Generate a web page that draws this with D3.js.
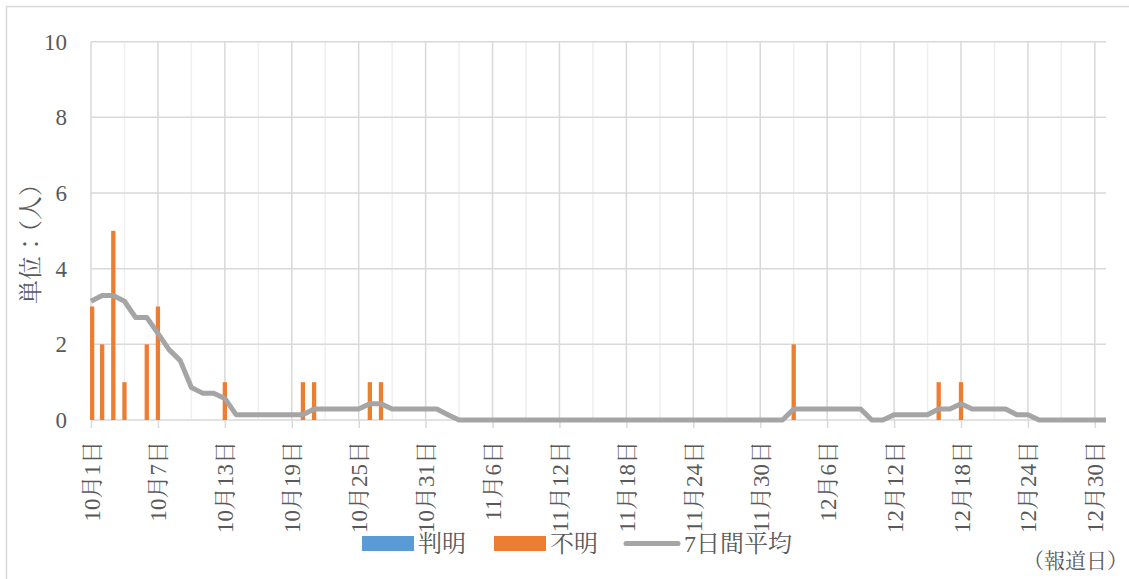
<!DOCTYPE html>
<html>
<head>
<meta charset="utf-8">
<script src="https://cdn.jsdelivr.net/npm/d3@7"></script>
<style>
  body { margin: 0; background: #fff; }
  svg { display: block; }
  text { font-family: "Liberation Serif", "Noto Serif CJK JP", "Noto Sans CJK JP", serif; fill: #595959; }
</style>
</head>
<body>
<svg width="1129" height="579"></svg>
<script>
// first and last report day (Oct 1 .. Dec 31)
var startDay = Date.UTC(2020, 9, 1);
var endDay = Date.UTC(2020, 11, 31);

// 不明 : daily counts, one per day
var unknownOct = [3, 2, 5, 1, 0, 2, 3, 0, 0, 0, 0, 0, 1, 0, 0, 0, 0, 0, 0, 1, 1, 0, 0, 0, 0, 1, 1, 0, 0, 0, 0];
var unknownNov = [0, 0, 0, 0, 0, 0, 0, 0, 0, 0, 0, 0, 0, 0, 0, 0, 0, 0, 0, 0, 0, 0, 0, 0, 0, 0, 0, 0, 0, 0];
var unknownDec = [0, 0, 2, 0, 0, 0, 0, 0, 0, 0, 0, 0, 0, 0, 0, 1, 0, 1, 0, 0, 0, 0, 0, 0, 0, 0, 0, 0, 0, 0, 0];

// 判明 : nothing in this period
var knownOct = [0, 0, 0, 0, 0, 0, 0, 0, 0, 0, 0, 0, 0, 0, 0, 0, 0, 0, 0, 0, 0, 0, 0, 0, 0, 0, 0, 0, 0, 0, 0];
var knownNov = [0, 0, 0, 0, 0, 0, 0, 0, 0, 0, 0, 0, 0, 0, 0, 0, 0, 0, 0, 0, 0, 0, 0, 0, 0, 0, 0, 0, 0, 0];
var knownDec = [0, 0, 0, 0, 0, 0, 0, 0, 0, 0, 0, 0, 0, 0, 0, 0, 0, 0, 0, 0, 0, 0, 0, 0, 0, 0, 0, 0, 0, 0, 0];

// 7日間平均
var avgOct = [3.14, 3.29, 3.29, 3.14, 2.71, 2.71, 2.29, 1.86, 1.57, 0.86, 0.71, 0.71, 0.57, 0.14, 0.14, 0.14,
              0.14, 0.14, 0.14, 0.14, 0.29, 0.29, 0.29, 0.29, 0.29, 0.43, 0.43, 0.29, 0.29, 0.29, 0.29];
var avgNov = [0.29, 0.14, 0, 0, 0, 0, 0, 0, 0, 0, 0, 0, 0, 0, 0, 0, 0, 0, 0, 0, 0, 0, 0, 0, 0, 0, 0, 0, 0, 0];
var avgDec = [0, 0, 0.29, 0.29, 0.29, 0.29, 0.29, 0.29, 0.29, 0, 0, 0.14, 0.14, 0.14, 0.14, 0.29,
              0.29, 0.43, 0.29, 0.29, 0.29, 0.29, 0.14, 0.14, 0, 0, 0, 0, 0, 0, 0];

var yTicks = [0, 2, 4, 6, 8, 10];
var seriesNames = ["判明", "不明", "7日間平均"];
var yTitle = "単位：（人）";
var xNote = "（報道日）";

var svg = d3.select("svg"),
    width = +svg.attr("width"),
    height = +svg.attr("height");

var days = d3.utcDay.range(startDay, endDay + 1);
var unknown = unknownOct.concat(unknownNov, unknownDec);
var known = knownOct.concat(knownNov, knownDec);
var avg = avgOct.concat(avgNov, avgDec);

var rows = days.map(function(d, i) {
    return { date: d, known: known[i], unknown: unknown[i], avg: avg[i] };
});

var x = d3.scaleUtc()
    .domain([new Date(startDay), new Date(endDay)])
    .range([91, 1106]);

var y = d3.scaleLinear()
    .domain([0, 10])
    .range([420, 41.7]);

// outer frame
svg.append("rect")
    .attr("x", 6.5)
    .attr("y", 6.5)
    .attr("width", width)
    .attr("height", height)
    .attr("fill", "none")
    .attr("stroke", "#d9d9d9")
    .attr("stroke-width", 1.5);

// vertical gridlines, every 3 days (darker every 6)
var gridDays = days.filter(function(d, i) { return i % 3 === 0; });
svg.append("g")
    .selectAll("line")
    .data(gridDays)
    .enter().append("line")
    .attr("x1", function(d) { return x(d); })
    .attr("x2", function(d) { return x(d); })
    .attr("y1", y(10))
    .attr("y2", y(0))
    .attr("stroke", function(d, i) { return i % 2 === 0 ? "#d9d9d9" : "#efefef"; })
    .attr("stroke-width", 1.5);

// horizontal gridlines
svg.append("g")
    .selectAll("line")
    .data(yTicks)
    .enter().append("line")
    .attr("x1", x.range()[0])
    .attr("x2", x.range()[1])
    .attr("y1", function(d) { return y(d); })
    .attr("y2", function(d) { return y(d); })
    .attr("stroke", "#d9d9d9")
    .attr("stroke-width", 1.5);

// y axis labels
var yAxis = svg.append("g")
    .attr("transform", "translate(" + x.range()[0] + ",0)")
    .call(d3.axisLeft(y).tickValues(yTicks).tickSize(0).tickPadding(24));
yAxis.select(".domain").remove();
yAxis.selectAll("text")
    .attr("font-size", 23)
    .attr("fill", "#595959")
    .style("font-family", null);

// x axis
var tickDays = days.filter(function(d, i) { return i % 6 === 0; });
var xAxis = svg.append("g")
    .attr("transform", "translate(0," + y(0) + ")")
    .call(d3.axisBottom(x)
        .tickValues(tickDays)
        .tickSize(8)
        .tickFormat(d3.utcFormat("%-m月%-d日")));
xAxis.select(".domain").remove();
xAxis.selectAll("line")
    .attr("stroke", "#d9d9d9")
    .attr("stroke-width", 1.5);
xAxis.selectAll("text")
    .attr("font-size", 23)
    .attr("fill", "#595959")
    .attr("transform", "rotate(-90)")
    .attr("text-anchor", "end")
    .attr("x", -21)
    .attr("y", 0)
    .attr("dy", "0.35em");

// bars (clustered but centered on the day)
var barW = 4.3;
svg.append("g")
    .selectAll("rect")
    .data(rows.filter(function(d) { return d.known > 0; }))
    .enter().append("rect")
    .attr("x", function(d) { return x(d.date) - barW / 2; })
    .attr("y", function(d) { return y(d.known); })
    .attr("width", barW)
    .attr("height", function(d) { return y(0) - y(d.known); })
    .attr("fill", "#5b9bd5");

svg.append("g")
    .selectAll("rect")
    .data(rows.filter(function(d) { return d.unknown > 0; }))
    .enter().append("rect")
    .attr("x", function(d) { return Math.max(x(d.date) - barW / 2, x.range()[0] - 1); })
    .attr("y", function(d) { return y(d.unknown); })
    .attr("width", barW)
    .attr("height", function(d) { return y(0) - y(d.unknown); })
    .attr("fill", "#ed7d31");

// 7 day average
var line = d3.line()
    .x(function(d) { return x(d.date); })
    .y(function(d) { return y(d.avg); });

svg.append("path")
    .datum(rows)
    .attr("d", line)
    .attr("fill", "none")
    .attr("stroke", "#a5a5a5")
    .attr("stroke-width", 5)
    .attr("stroke-linejoin", "round");

// y title
svg.append("text")
    .attr("transform", "translate(31,238) rotate(-90)")
    .attr("text-anchor", "middle")
    .attr("dy", "0.35em")
    .attr("font-size", 24)
    .attr("fill", "#595959")
    .text(yTitle);

// note at bottom right
svg.append("text")
    .attr("x", 1128)
    .attr("y", 561)
    .attr("text-anchor", "end")
    .attr("dy", "0.35em")
    .attr("font-size", 21)
    .attr("fill", "#595959")
    .text(xNote);

// legend
var legend = svg.append("g").attr("transform", "translate(0,543.5)");
var legendX = [362, 494, 624];

legend.append("rect")
    .attr("x", legendX[0]).attr("y", -7.5)
    .attr("width", 52).attr("height", 15)
    .attr("fill", "#5b9bd5");
legend.append("rect")
    .attr("x", legendX[1]).attr("y", -7.5)
    .attr("width", 52).attr("height", 15)
    .attr("fill", "#ed7d31");
legend.append("line")
    .attr("x1", legendX[2] + 2).attr("x2", legendX[2] + 54)
    .attr("stroke", "#a5a5a5")
    .attr("stroke-width", 5)
    .attr("stroke-linecap", "round");

legend.selectAll("text")
    .data(seriesNames)
    .enter().append("text")
    .attr("x", function(d, i) { return legendX[i] + (i === 2 ? 60 : 56); })
    .attr("dy", "0.35em")
    .attr("font-size", 24)
    .attr("fill", "#595959")
    .text(function(d) { return d; });
</script>
</body>
</html>
